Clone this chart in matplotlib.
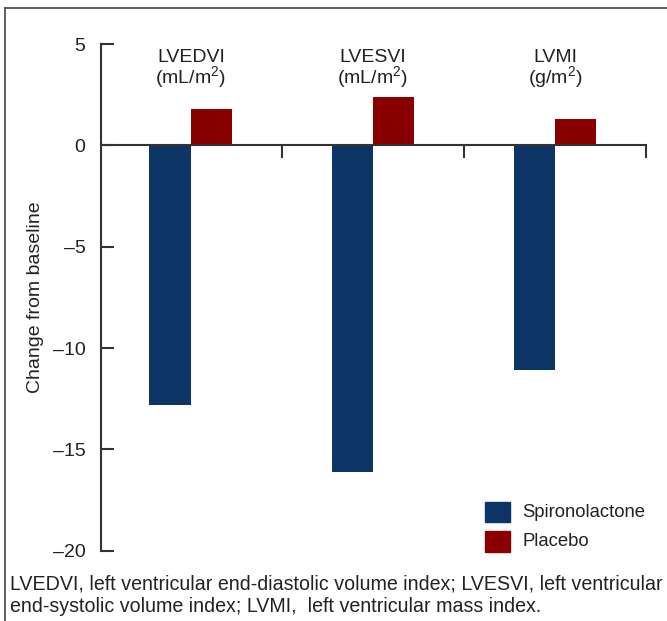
import matplotlib
matplotlib.use("Agg")
import matplotlib.pyplot as plt
from matplotlib.lines import Line2D
import numpy as np

plt.rcParams['font.family'] = ['Liberation Sans', 'DejaVu Sans']
plt.rcParams['mathtext.fontset'] = 'custom'
plt.rcParams['mathtext.rm'] = 'Liberation Sans'
plt.rcParams['mathtext.it'] = 'Liberation Sans'

cat_names = ["LVEDVI", "LVESVI", "LVMI"]
cat_units = ["(mL/m$^{2}$)", "(mL/m$^{2}$)", "(g/m$^{2}$)"]
spironolactone = [-12.8, -16.1, -11.1]
placebo = [1.8, 2.4, 1.3]
yticks = [5, 0, -5, -10, -15, -20]
series_names = ["Spironolactone", "Placebo"]
colors = ["#0c3566", "#8a0000"]

W, H = 667, 621
fig = plt.figure(figsize=(W / 100, H / 100), dpi=100)
ax = fig.add_axes([100.7 / W, 1 - 550.7 / H, (646 - 100.7) / W, (550.7 - 44) / H])

x = np.arange(len(cat_names))
bw = 0.227
ax.bar(x - bw / 2, spironolactone, bw, color=colors[0], zorder=1)
ax.bar(x + bw / 2, placebo, bw, color=colors[1], zorder=1)

ax.set_xlim(-0.495, 2.5)
ax.set_ylim(-20, 5)

spine_col = "#333333"
txt_col = "#222222"
for s in ["top", "right"]:
    ax.spines[s].set_visible(False)
ax.spines["left"].set_color(spine_col)
ax.spines["left"].set_linewidth(1.5)
ax.spines["bottom"].set_position(("data", 0))
ax.spines["bottom"].set_color(spine_col)
ax.spines["bottom"].set_linewidth(1.5)
ax.spines["bottom"].set_zorder(3)

ax.set_yticks(yticks)
ax.set_yticklabels([str(v).replace("-", "\u2013") for v in yticks], fontsize=14, color=txt_col)
ax.tick_params(axis="y", direction="in", length=9, width=1.5, color=spine_col, pad=11)
ax.set_xticks([0.5, 1.5, 2.5])
ax.set_xticklabels([])
ax.tick_params(axis="x", direction="out", length=9, width=1.5, color=spine_col)

ax.set_ylabel("Change from baseline", fontsize=14, color=txt_col)
ax.yaxis.set_label_coords((44 - 100.7) / 545.3, 0.5)

for i in range(len(cat_names)):
    ax.text(i, 4.13, cat_names[i], ha="center", va="baseline", fontsize=14, color=txt_col)
    ax.text(i, 3.06, cat_units[i], ha="center", va="baseline", fontsize=14, color=txt_col)

# legend
for j, (name, col) in enumerate(zip(series_names, colors)):
    y0 = 501.7 + j * 29.5
    fig.patches.append(plt.Rectangle((485 / W, 1 - (y0 + 20.3) / H), 24.5 / W, 20.3 / H,
                                     transform=fig.transFigure, color=col))
    fig.text(522 / W, 1 - (y0 + 10.5) / H, name, ha="left", va="center", fontsize=13.3, color=txt_col)

foot = ["LVEDVI, left ventricular end-diastolic volume index; LVESVI, left ventricular",
        "end-systolic volume index; LVMI,  left ventricular mass index."]
for k, line in enumerate(foot):
    fig.text(10 / W, 1 - (584 + 23 * k) / H, line, ha="left", va="center", fontsize=14.1, color=txt_col)

# frame border
fig.add_artist(Line2D([5 / W, 5 / W], [0, 1 - 8 / H], transform=fig.transFigure, color="#444444", lw=1.2))
fig.add_artist(Line2D([5 / W, 1], [1 - 8 / H, 1 - 8 / H], transform=fig.transFigure, color="#444444", lw=1.2))

fig.savefig("out.png", dpi=100)
